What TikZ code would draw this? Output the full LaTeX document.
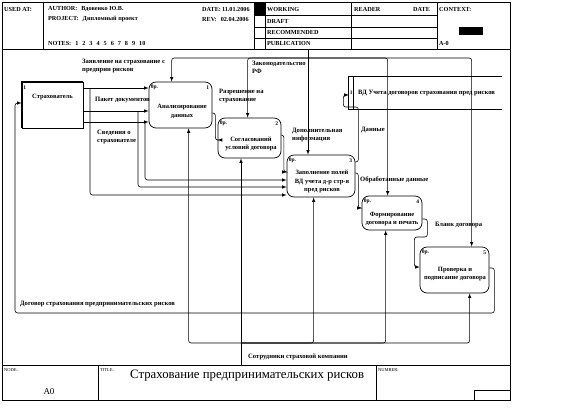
\documentclass[tikz,border=0pt]{standalone}
\usepackage{fontspec}
\setmainfont{Liberation Serif}
\usetikzlibrary{calc}
\usetikzlibrary{arrows}
\tikzset{
	frame/.style={line width=.8pt},
	proc/.style={draw, line width=.7pt, rounded corners=7pt, inner sep=0pt},
	txt/.style={font=\fontsize{6.5}{8.5}\selectfont\bfseries, align=center, inner sep=0pt},
	lbl/.style={font=\fontsize{6.6}{8}\selectfont\bfseries, align=left, anchor=west, inner sep=0pt},
	tag/.style={font=\fontsize{5.5}{6}\selectfont\bfseries, inner sep=0pt},
	hd/.style={font=\fontsize{6.2}{7}\selectfont\bfseries, anchor=west, inner sep=0pt},
	flow/.style={->, >=latex, line width=.6pt, rounded corners=2.5pt},
}
\begin{document}
\begin{tikzpicture}[x=1pt,y=-1pt]
		\useasboundingbox (0,0) rectangle (573,420);
		% frame and header
		\draw[frame] (2,2) rectangle (510,400);
		\draw[frame] (2,49) -- (510,49);
		\draw[frame] (2,365) -- (510,365);
		\draw[frame] (43,2) -- (43,49);
		\draw[frame] (254,2) -- (254,49);
		\draw[frame] (265,2) -- (265,49);
		\draw[frame] (351,2) -- (351,49);
		\draw[frame] (437,2) -- (437,49);
		\draw[frame] (254,15) -- (437,15) (254,27) -- (437,27) (254,38) -- (437,38);
		\fill (254,2) rectangle (265,15);
		\fill (459,27) rectangle (483,35);
		\draw[frame] (98,365) -- (98,400);
		\draw[frame] (376,365) -- (376,400);
		\draw[frame] (474,400) -- (474,390) -- (510,390);
		\node[hd] (usedat) at (4,9) {USED AT:};
		\node[hd] (author) at (48,9) {AUTHOR:\hspace{4pt}Вдовенко Ю.В.};
		\node[hd] (project) at (48,19) {PROJECT:\hspace{4pt}Дипломный проект};
		\node[hd] (notes) at (48,43) {NOTES:\hspace{4pt}1\hspace{4pt}2\hspace{4pt}3\hspace{4pt}4\hspace{4pt}5\hspace{4pt}6\hspace{4pt}7\hspace{4pt}8\hspace{4pt}9\hspace{4pt}10};
		\node[hd] (date) at (202,9) {DATE:\,11.01.2006};
		\node[hd] (rev) at (202,19) {REV:\hspace{4pt}02.04.2006};
		\node[hd] (working) at (267,9) {WORKING};
		\node[hd] (draft) at (267,21) {DRAFT};
		\node[hd] (recom) at (267,32) {RECOMMENDED};
		\node[hd] (publ) at (267,43) {PUBLICATION};
		\node[hd] (reader) at (354,9) {READER};
		\node[hd] (rdate) at (413,9) {DATE};
		\node[hd] (context) at (439,9) {CONTEXT:};
		\node[hd] (ctxnode) at (439,43) {A-0};
		\node[hd,font=\fontsize{4.5}{5}\selectfont] (nodecap) at (4,370) {NODE:};
		\node[hd,font=\fontsize{4.5}{5}\selectfont] (titlecap) at (100,370) {TITLE:};
		\node[hd,font=\fontsize{4.5}{5}\selectfont] (numcap) at (378,370) {NUMBER:};
		\node[font=\fontsize{9}{10}\selectfont, inner sep=0pt] (nodeid) at (49,392) {A0};
		\node[hd,font=\fontsize{12.8}{14}\selectfont] (title) at (130,376) {Страхование предпринимательских рисков};
		% boxes
		\node[draw, line width=.7pt, minimum width=61pt, minimum height=46pt, inner sep=0pt] (strah) at (52.5,105) {};
		\draw[line width=1.8pt] (strah.south west) -- (strah.north west) -- (strah.north east);
		\node[proc, minimum width=63pt, minimum height=46pt] (b1) at (180.5,105) {};
		\node[proc, minimum width=63pt, minimum height=40pt] (b2) at (249.5,138) {};
		\node[proc, minimum width=68pt, minimum height=42pt] (b3) at (321,176) {};
		\node[proc, minimum width=60pt, minimum height=34pt] (b4) at (392,213) {};
		\node[proc, minimum width=69pt, minimum height=46pt] (b5) at (454.5,270) {};
		\node[minimum width=153pt, minimum height=32pt, inner sep=0pt] (store) at (425.5,93) {};
		\draw[line width=.7pt] (store.north east) -- (store.north west) -- (store.south west) -- (store.south east);
		\draw[line width=.7pt] ($(store.north west)+(5,0)$) -- ($(store.south west)+(5,0)$);
		% box texts
		\node[txt] (strahtxt) at (52.5,97) {Страхователь};
		\node[txt] (b1txt) at (182,111.5) {Анализирование\\данных};
		\node[txt] (b2txt) at (251,144) {Согласований\\условий договора};
		\node[txt] (b3txt) at (322,181.5) {Заполнение полей\\ВД учета д-р стр-я\\пред рисков};
		\node[txt] (b4txt) at (392,219) {Формирование\\договора и печать};
		\node[txt] (b5txt) at (455,274) {Проверка и\\подписание договора};
		\node[lbl] (storetxt) at (358,93) {ВД Учета договоров страхования пред рисков};
		\node[tag] (storen) at ($(store.west)+(2.5,0)$) {1};
		\node[tag,anchor=west] (strahn) at ($(strah.north west)+(1.5,6)$) {1};
		\node[tag,anchor=west] (b1o) at ($(b1.north west)+(2,6)$) {0р.};
		\node[tag,anchor=east] (b1n) at ($(b1.north east)+(-3,6)$) {1};
		\node[tag,anchor=west] (b2o) at ($(b2.north west)+(2,6)$) {0р.};
		\node[tag,anchor=east] (b2n) at ($(b2.north east)+(-3,6)$) {2};
		\node[tag,anchor=west] (b3o) at ($(b3.north west)+(2,6)$) {0р.};
		\node[tag,anchor=east] (b3n) at ($(b3.north east)+(-3,6)$) {3};
		\node[tag,anchor=west] (b4o) at ($(b4.north west)+(2,6)$) {0р.};
		\node[tag,anchor=east] (b4n) at ($(b4.north east)+(-3,6)$) {4};
		\node[tag,anchor=west] (b5o) at ($(b5.north west)+(2,6)$) {0р.};
		\node[tag,anchor=east] (b5n) at ($(b5.north east)+(-3,6)$) {5};
		% controls
		\coordinate (ctl) at (308,49);
		\coordinate (ctlj) at (308,58);
		\draw[flow] (ctl) -- (b3.north -| ctl);
		\draw[flow] (ctlj) -| ($(b1.north west)+(23,0)$);
		\draw[flow] (ctlj) -| ($(b2.north west)+(30,0)$);
		\draw[flow] (ctlj) -| ($(b4.north west)+(26,0)$);
		\draw[flow] (ctlj) -| ($(b5.north west)+(52,0)$);
		% inputs from Страхователь
		\coordinate (j1) at (90,88);
		\coordinate (j2) at (138,111);
		\coordinate (j3) at (145,122);
		\draw[flow] (strah.east |- j1) -- (b1.west |- j1);
		\draw[flow] (strah.east |- j2) -- (b1.west |- j2);
		\draw[flow] (strah.east |- j3) -- (b1.west |- j3);
		\draw[flow] (j1) |- (b3.west |- 0,195);
		\draw[flow] (j2) |- (b3.west |- 0,187);
		\draw[flow] (j3) |- (b3.west |- 0,180);
		% outputs
		\draw[flow] (b1.east |- 0,113) -- ++(3,0) |- (b2.west |- 0,140);
		\draw[flow] (b2.east |- 0,135) -- ++(2.5,0) |- (b3.west |- 0,172);
		\draw[flow] (b3.east |- 0,162) -- ++(3,0) -- ++(0,-55) -- ++(-15,0) |- (store.west |- 0,95);
		\draw[flow] (b3.east |- 0,173) -- ++(3,0) |- (b4.west |- 0,208);
		\draw[flow] (b4.east |- 0,219) -- ++(5,0) -- ++(0,18) -- ++(-13,0) |- (b5.west |- 0,267);
		\coordinate (ret) at (15,313);
		\draw[flow] (b5.east |- 0,268) -- ++(5,0) |- (ret) |- (strah.west |- 0,103);
		% mechanism
		\coordinate (mech) at (241,365);
		\coordinate (mechj) at (241,343);
		\draw[flow] (mech) -- (b2.south -| mech);
		\draw[flow] (mechj) -| ($(b1.south west)+(40,0)$);
		\draw[flow] (mechj) -| ($(b3.south west)+(27,0)$);
		\draw[flow] (mechj) -| ($(b4.south west)+(24,0)$);
		\draw[flow] (mechj) -| ($(b5.south west)+(50,0)$);
		% arrow labels
		\node[lbl] (lzay) at (82,66) {Заявление на страхование с\\предприн рисков};
		\node[lbl] (lzak) at (252,67) {Законодательство\\РФ};
		\node[lbl] (lpak) at (95,100) {Пакет документов};
		\node[lbl] (lsved) at (97,137) {Сведения о\\страхователе};
		\node[lbl] (lrazr) at (219,96) {Разрешение на\\страхование};
		\node[lbl] (ldop) at (292,135) {Дополнительная\\информация};
		\node[lbl] (ldan) at (361,130) {Данные};
		\node[lbl] (lobr) at (360,180) {Обработанные данные};
		\node[lbl] (lblank) at (435,225) {Бланк договора};
		\node[lbl] (ldog) at (20,304) {Договор страхования предпринимательских рисков};
		\node[lbl] (lsotr) at (248,357) {Сотрудники страховой компании};
	\end{tikzpicture}
\end{document}
